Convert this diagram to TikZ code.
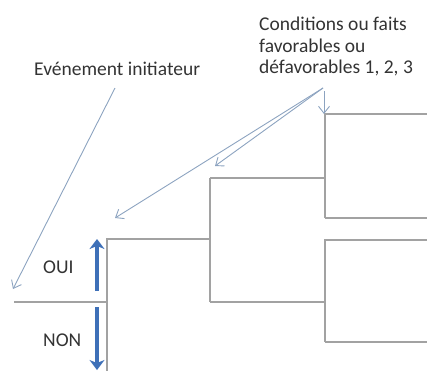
\documentclass[tikz,border=0pt]{standalone}
\usepackage{fontspec}
\setmainfont{Carlito}
\usetikzlibrary{arrows.meta}
\definecolor{treegray}{HTML}{A2A2A2}
\definecolor{notecol}{HTML}{8CA3C0}
\definecolor{choiceblue}{HTML}{3E70B8}
\definecolor{labeltext}{HTML}{333333}
\begin{document}
\begin{tikzpicture}[x=1pt,y=-1pt,
  branch/.style={draw=treegray,line width=1.1pt},
  note/.style={draw=notecol,line width=0.9pt,-{Straight Barb[length=7pt,width=11pt]}},
  choice/.style={draw=choiceblue,line width=3.8pt,-{Stealth[length=10pt,width=15pt,inset=3pt]}},
  label/.style={text=labeltext,inner sep=0pt,font=\fontsize{19.5}{21.5}\selectfont}]
\useasboundingbox (0,0) rectangle (427,370);

% labels
\node[label,anchor=base west] (ev) at (34,75) {Evénement initiateur};
\node[label,anchor=north west,align=left] (cond) at (259,17)
  {Conditions ou faits\\favorables ou\\défavorables 1, 2, 3};
\node[label,anchor=base west] (oui) at (43,273) {OUI};
\node[label,anchor=base west] (non) at (43,346) {NON};

% event tree junctions
\coordinate (start) at (14,302);
\coordinate (s0) at (107,302);
\coordinate (s0top) at (107,239);
\coordinate (s0bot) at (107,372);
\coordinate (a1) at (210,239);
\coordinate (a1top) at (210,178);
\coordinate (a1bot) at (210,302);
\coordinate (b1) at (325,178);
\coordinate (b1top) at (325,114);
\coordinate (b1bot) at (325,218);
\coordinate (b2) at (325,302);
\coordinate (b2top) at (325,240);
\coordinate (b2bot) at (325,342);
\coordinate (e1) at (428,114);
\coordinate (e2) at (428,218);
\coordinate (e3) at (428,240);
\coordinate (e4) at (428,342);

% event tree
\draw[branch] (start) -- (s0);
\draw[branch] (s0bot) -- (s0top) -- (a1);
\draw[branch] (a1top) -- (a1bot);
\draw[branch] (a1top) -- (b1);
\draw[branch] (a1bot) -- (b2);
\draw[branch] (b1bot) -- (b1top) -- (e1);
\draw[branch] (b1bot) -- (e2);
\draw[branch] (b2bot) -- (b2top) -- (e3);
\draw[branch] (b2bot) -- (e4);

% annotation arrows
\coordinate (evtail) at (115,88);
\coordinate (evtip) at (13,289);
\coordinate (cfrom) at (323,88);
\coordinate (cdown) at (324,91);
\coordinate (tip1) at (115,218);
\coordinate (tip2) at (215,166);
\coordinate (tip3) at (324,114);
\draw[note] (evtail) -- (evtip);
\draw[note] (cfrom) -- (tip1);
\draw[note] (cfrom) -- (tip2);
\draw[note] (cdown) -- (tip3);

% yes / no arrows
\coordinate (upfrom) at (97,291);
\coordinate (upto) at (97,239);
\coordinate (dnfrom) at (97,307);
\coordinate (dnto) at (97,370);
\draw[choice] (upfrom) -- (upto);
\draw[choice] (dnfrom) -- (dnto);
\end{tikzpicture}
\end{document}
